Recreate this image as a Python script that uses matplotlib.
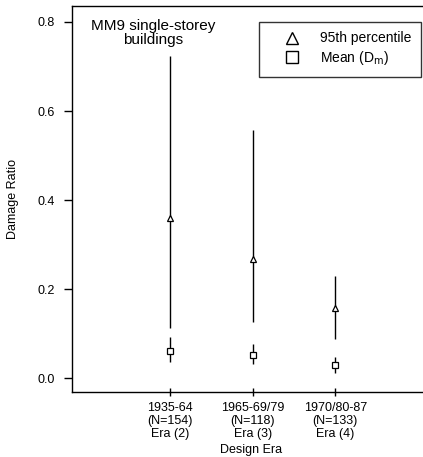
import matplotlib.pyplot as plt
from matplotlib.lines import Line2D

plt.rcParams['font.family'] = ['Liberation Sans', 'DejaVu Sans']

eras = [2, 3, 4]
era_labels = ['1935-64\n(N=154)\nEra (2)', '1965-69/79\n(N=118)\nEra (3)', '1970/80-87\n(N=133)\nEra (4)']

p95 = [0.36, 0.267, 0.157]
p95_lo = [0.112, 0.126, 0.088]
p95_hi = [0.724, 0.557, 0.229]

mean = [0.061, 0.052, 0.029]
mean_lo = [0.036, 0.031, 0.013]
mean_hi = [0.092, 0.076, 0.047]

fig = plt.figure(figsize=(4.23, 4.57), dpi=100)
ax = fig.add_axes([0.170, 0.142, 0.847, 0.845])

ax.vlines(eras, p95_lo, p95_hi, color='black', lw=1.0)
ax.vlines(eras, mean_lo, mean_hi, color='black', lw=1.0)
ax.plot(eras, p95, linestyle='none', marker='^', ms=5, mfc='white', mec='black', mew=0.9)
ax.plot(eras, mean, linestyle='none', marker='s', ms=5, mfc='white', mec='black', mew=0.9)

ax.set_xlim(0.812, 5.15)
ax.set_ylim(-0.031, 0.836)
ax.set_xticks(eras)
ax.set_xticklabels(era_labels, fontsize=9, linespacing=1.1)
ax.set_yticks([0.0, 0.2, 0.4, 0.6, 0.8])
ax.set_yticklabels(['0.0', '0.2', '0.4', '0.6', '0.8'], fontsize=9)
ax.tick_params(axis='y', direction='out', length=6, width=1, pad=6)
ax.tick_params(axis='x', direction='inout', length=6, width=1, pad=4)
ax.spines['right'].set_visible(False)
for s in ['left', 'bottom', 'top']:
    ax.spines[s].set_linewidth(1.0)

ax.set_xlabel('Design Era', fontsize=9, labelpad=3)
ax.set_ylabel('Damage Ratio', fontsize=9)
ax.yaxis.set_label_coords(-0.149, 0.5)

ax.text(0.226, 0.967, 'MM9 single-storey\nbuildings', transform=ax.transAxes,
        ha='center', va='top', fontsize=11, linespacing=1.0)

handles = [
    Line2D([], [], linestyle='none', marker='^', ms=9, mfc='white', mec='black', mew=1.0),
    Line2D([], [], linestyle='none', marker='s', ms=8, mfc='white', mec='black', mew=1.0),
]
leg = ax.legend(handles, ['95th percentile', r'Mean (D$_{\rm m}$)'], loc='upper left',
                bbox_to_anchor=(0.522, 0.959), borderaxespad=0, fontsize=10,
                frameon=True, fancybox=False, edgecolor='black',
                handlelength=3.4, handletextpad=0.3, labelspacing=0.25,
                borderpad=0.7)
leg.get_frame().set_linewidth(1.0)

fig.savefig('out.png', dpi=100)
